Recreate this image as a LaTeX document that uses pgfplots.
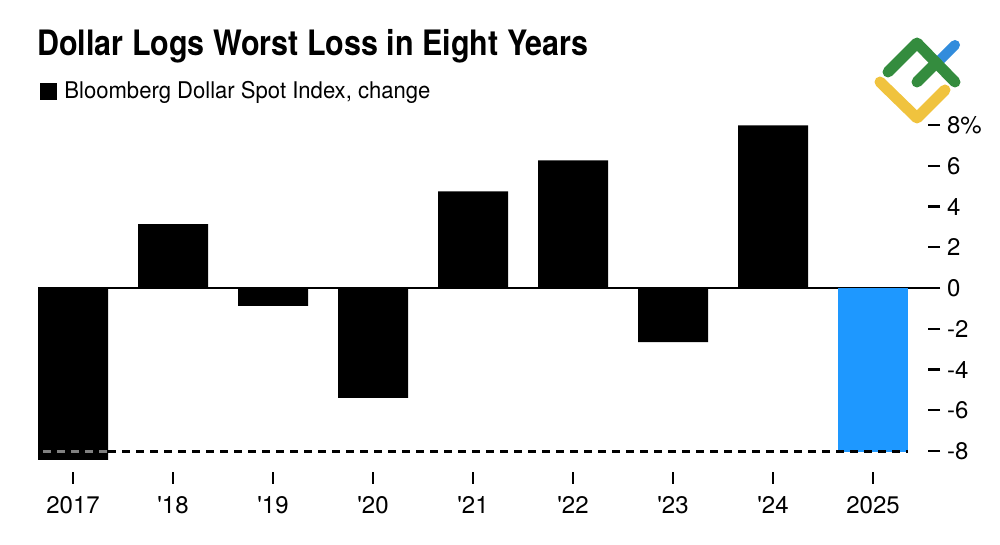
\documentclass[border=0pt]{standalone}
\usepackage{fontspec}
\setmainfont{TeX Gyre Heros}
\usepackage{pgfplots}
\pgfplotsset{compat=1.18}

\definecolor{barblue}{RGB}{30,152,255}
\definecolor{logogreen}{RGB}{52,140,62}
\definecolor{logoyellow}{RGB}{240,195,62}
\definecolor{logoblue}{RGB}{50,140,220}

\newcommand{\q}{\textquotesingle}

\begin{document}
\begin{tikzpicture}
% canvas in pixel units of the reference (1000 x 545)
\begin{scope}[shift={(-19pt,241.8pt)}, x=0.5pt, y=-0.5pt]
  \useasboundingbox (0,0) rectangle (1000,545);
  \node[anchor=base west, inner sep=0pt, font=\fontsize{17.5}{20}\selectfont\bfseries] at (37,56) {\scalebox{0.87}[1]{Dollar Logs Worst Loss in Eight Years}};
  \fill (40,83) rectangle (57,100);
  \node[anchor=base west, inner sep=0pt, font=\fontsize{11.5}{14}\selectfont] at (64,99) {\scalebox{0.96}[1]{Bloomberg Dollar Spot Index, change}};
  % logo watermark
  \draw[logoyellow, line width=5.5pt, line cap=round, line join=round] (880,82) -- (917,118) -- (945,90);
  \draw[logoblue, line width=5pt, line cap=round] (938,62) -- (955,45);
  \draw[logogreen, line width=5.5pt, line cap=round, line join=round] (888,72) -- (917,43) -- (955,82);
  \draw[logogreen, line width=5.5pt, line cap=round] (917,82) -- (935,64);
\end{scope}

\begin{axis}[
    at={(0,0)}, anchor=south west,
    scale only axis,
    width=451pt, height=181.3pt,
    xmin=-0.35, xmax=8.67,
    ymin=-9.6, ymax=8.2,
    axis line style={draw=none},
    xtick={0,1,2,3,4,5,6,7,8},
    xticklabels={2017,\q18,\q19,\q20,\q21,\q22,\q23,\q24,2025},
    ytick={-8,-6,-4,-2,0,2,4,6,8},
    yticklabels={-8,-6,-4,-2,0,2,4,6,8\%},
    xtick pos=bottom, ytick pos=right,
    yticklabel pos=right,
    tick align=inside,
    major tick length=6pt,
    xtick style={black, line width=0.8pt},
    ytick style={black, line width=1.2pt},
    ticklabel style={font=\fontsize{12}{14}\selectfont},
    xticklabel style={yshift=-3pt},
    clip=false,
]
% zero line
\addplot[black, line width=0.8pt, forget plot] coordinates {(-0.35,0) (8.67,0)};
% annual change, 2017 to 2024
\addplot[ybar, bar width=35pt, bar shift=0pt, fill=black, draw=none] coordinates {
    (0,-8.43) (1,3.14) (2,-0.88) (3,-5.39) (4,4.75) (5,6.27) (6,-2.65) (7,7.99)};
% 2025 year to date
\addplot[ybar, bar width=35pt, bar shift=0pt, fill=barblue, draw=none] coordinates {(8,-8.04)};
% reference line at the 2025 level
\addplot[black, line width=1.5pt, dash pattern=on 4pt off 3pt, forget plot] coordinates {(0.35,-8) (8.35,-8)};
\addplot[gray, line width=1.5pt, dash pattern=on 4pt off 3pt, forget plot] coordinates {(-0.3,-8) (0.35,-8)};
\end{axis}
\end{tikzpicture}
\end{document}
